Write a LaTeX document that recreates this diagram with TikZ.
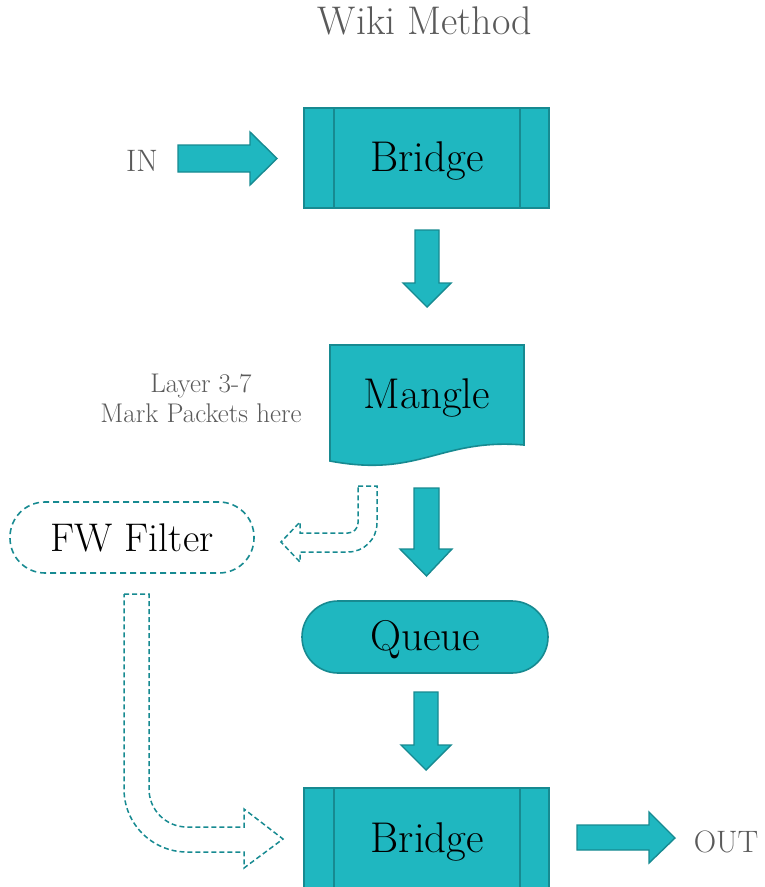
\documentclass[tikz,border=0pt]{standalone}
\usepackage{fontspec}
\usetikzlibrary{calc}
\definecolor{tealfill}{HTML}{1FB7C0}
\definecolor{tealline}{HTML}{178A91}
\definecolor{graytext}{HTML}{5A5A5A}
\tikzset{
  boxstyle/.style={fill=tealfill, draw=tealline, line width=1.6pt},
  blockarrow/.style={fill=tealfill, draw=tealline, line width=1.4pt, line join=miter},
  dasharrow/.style={draw=tealline, line width=1.5pt, dash pattern=on 5pt off 3pt},
  bigtext/.style={font=\fontsize{43}{50}\selectfont, text=black, anchor=base, inner sep=0pt},
  graylabel/.style={font=\fontsize{31}{36}\selectfont, text=graytext, anchor=base, inner sep=0pt},
  smalllabel/.style={font=\fontsize{27}{32}\selectfont, text=graytext, align=center, inner sep=0pt},
}
\begin{document}
\begin{tikzpicture}[x=1pt,y=-1pt]
\useasboundingbox (0,0) rectangle (765,887);

% title
\node[font=\fontsize{40}{46}\selectfont, text=graytext, anchor=base, inner sep=0pt] (title) at (425,34) {Wiki Method};

% Bridge 1
\node[boxstyle, minimum width=245pt, minimum height=100pt, inner sep=0pt] (b1) at (426.5,158) {};
\draw[draw=tealline, line width=1.6pt] ([xshift=31pt]b1.north west) -- ([xshift=31pt]b1.south west);
\draw[draw=tealline, line width=1.6pt] ([xshift=-30pt]b1.north east) -- ([xshift=-30pt]b1.south east);
\node[bigtext] (b1t) at (427,171) {Bridge};

% IN
\node[graylabel] (in) at (142,171) {IN};
\draw[blockarrow] (178,145) -- (250,145) -- (250,132) -- (277,158.5) -- (250,185) -- (250,172) -- (178,172) -- cycle;

% down arrow 1
\draw[blockarrow] (415,230) -- (439,230) -- (439,283) -- (451,283) -- (427,307) -- (403,283) -- (415,283) -- cycle;

% Mangle
\draw[boxstyle] (330,345) -- (524,345) -- (524,445) .. controls (440,438) and (420,478) .. (330,461) -- cycle;
\coordinate (mangle) at (427,395);
\node[bigtext] (mt) at (427,408) {Mangle};
\node[smalllabel, anchor=base] (l1) at (201,392) {Layer 3-7};
\node[smalllabel, anchor=base] (l2) at (201,422) {Mark Packets here};

% down arrow 2
\draw[blockarrow] (414,488) -- (439,488) -- (439,549) -- (452,549) -- (426.5,576) -- (400,549) -- (414,549) -- cycle;

% FW Filter
\node[draw=tealline, line width=1.6pt, dash pattern=on 6pt off 4pt, fill=white, rounded corners=35pt, minimum width=244pt, minimum height=71pt, inner sep=0pt] (fw) at (132,537.5) {};
\node[bigtext, font=\fontsize{40}{48}\selectfont] (fwt) at (132,551) {FW Filter};

% dashed arrow mangle -> FW
\draw[dasharrow] (358,486) -- (377,486) -- (377,523) arc[start angle=0,end angle=90,radius=29]
  -- (300,552) -- (300,562) -- (281,542) -- (300,522) -- (300,533) -- (348,533)
  arc[start angle=90,end angle=0,radius=10] -- cycle;

% Queue
\node[boxstyle, rounded corners=36pt, minimum width=246pt, minimum height=72pt, inner sep=0pt] (q) at (425,637) {};
\node[bigtext] (qt) at (425,650) {Queue};

% down arrow 3
\draw[blockarrow] (414,692) -- (438,692) -- (438,745) -- (451,745) -- (426,770) -- (401,745) -- (414,745) -- cycle;

% Bridge 2
\node[boxstyle, minimum width=245pt, minimum height=100pt, inner sep=0pt] (b2) at (426.5,838) {};
\draw[draw=tealline, line width=1.6pt] ([xshift=31pt]b2.north west) -- ([xshift=31pt]b2.south west);
\draw[draw=tealline, line width=1.6pt] ([xshift=-30pt]b2.north east) -- ([xshift=-30pt]b2.south east);
\node[bigtext] (b2t) at (427.5,852) {Bridge};

% dashed arrow FW -> Bridge 2
\draw[dasharrow] (124,594) -- (149,594) -- (149,789) arc[start angle=180,end angle=90,radius=38]
  -- (244,827) -- (244,809) -- (283,839) -- (244,868) -- (244,852) -- (187,852)
  arc[start angle=90,end angle=180,radius=63] -- cycle;

% OUT
\draw[blockarrow] (577,825) -- (649,825) -- (649,812) -- (675,838) -- (649,863) -- (649,850) -- (577,850) -- cycle;
\node[graylabel] (out) at (726,852) {OUT};
\end{tikzpicture}
\end{document}
